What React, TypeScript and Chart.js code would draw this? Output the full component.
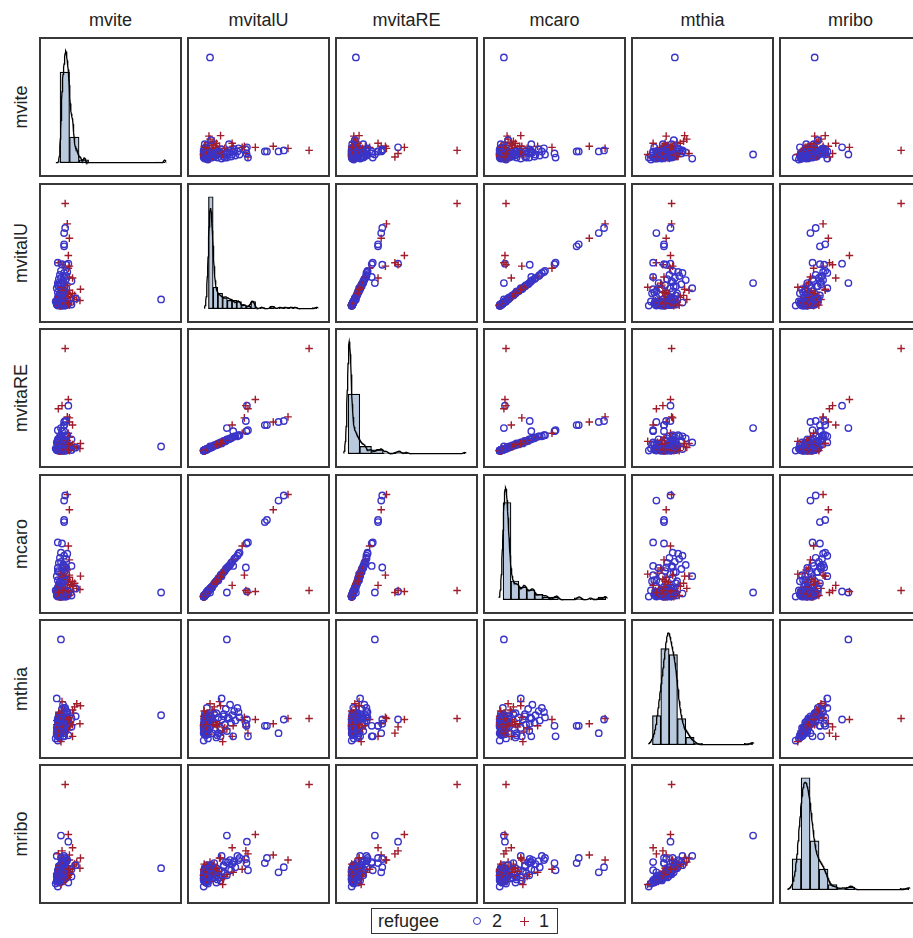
import React, { useEffect, useRef } from "react";
import { Chart, registerables } from "chart.js";

Chart.register(...registerables);

// ---------------- DATA (relative units) ----------------
const variableNames = ["mvite", "mvitalU", "mvitaRE", "mcaro", "mthia", "mribo"];
const legendTitle = "refugee";
const groupOrder = [2, 1];

const mvite = [
  2, 4, 1, 6, 3, 8, 5, 2, 10, 7,
  4, 12, 0, 9, 3, 6, 14, 5, 1, 8,
  11, 2, 16, 7, 4, 13, 6, 3, 10, 5,
  18, 8, 2, 12, 6, 9, 4, 15, 1, 7,
  11, 3, 17, 5, 8, 13, 2, 10, 6, 4,
  20, 7, 12, 1, 9, 5, 14, 3, 8, 11,
  6, 2, 16, 4, 23.5, 23, 7, 10, 19, 5,
  3, 5, 7, 2, 9, 4, 6, 8, 1, 5,
  10, 3, 6, 7, 4, 2, 8, 5, 11, 6,
  3, 7, 9, 4, 5, 12, 2, 6, 8, 3,
  5, 7, 4, 10, 6, 1, 8, 5, 3, 9,
  6, 2, 7, 4, 13, 5, 8, 3, 6, 7,
  4, 9, 2, 5, 11, 6, 3, 8, 7, 4,
  15, 5, 6, 2, 9, 4, 7, 3, 10, 5,
  8, 6, 1, 4, 7, 12, 3, 5, 9, 6,
  100, 9, 5, 11, 9, 8, 13, 8, 8, 12, 12, 6, 2.5, 13, 10, 16, 8, 6, 2, 12, 8, 11, 5,
];
const mvitalU = [
  0, 1, 2, 3, 1, 4, 5, 6, 3, 7,
  8, 2, 4, 9, 10, 1, 5, 11, 6, 12,
  7, 13, 8, 14, 3, 15, 16, 9, 17, 18,
  10, 19, 20, 11, 21, 22, 12, 24, 5, 25,
  13, 26, 4, 27, 14, 28, 8, 29, 15, 30,
  6, 16, 2, 17, 3, 18, 9, 19, 1, 20,
  10, 22, 12, 6, 16, 5, 23, 4, 7, 0,
  1, 2, 0.5, 3, 1.5, 2.5, 0, 4, 1, 2,
  3.5, 0.5, 1, 2, 3, 1.5, 4.5, 0, 2, 1,
  2.5, 3, 1, 0.5, 4, 2, 1.5, 3, 0, 2.5,
  1, 3.5, 2, 0.5, 1.5, 5, 1, 2, 3, 0,
  2, 1, 4, 1.5, 0.5, 3, 2.5, 1, 2, 3.5,
  0, 1.5, 2, 4, 1, 2.5, 0.5, 3, 1.5, 2,
  1, 3, 0.5, 2, 4.5, 1, 2, 1.5, 3, 0.5,
  2.5, 1, 3.5, 0, 2, 1.5, 4, 1, 2.5, 3,
  6, 100, 22, 80, 76, 71, 66, 58, 60, 49, 41, 40, 42, 38.6, 40, 27, 28, 40.6, 42, 36.5, 32, 33, 34,
];
const mvitaRE = [
  0, 0.5, 1, 1, 0, 2, 2, 3, 1.5, 3,
  3.5, 1, 2, 4, 5, 0.5, 2.5, 5, 2, 5.5,
  3, 6, 4, 6, 1, 7, 7.5, 4.5, 7, 8,
  4, 9, 9, 5, 9.5, 10, 6, 11, 2, 12,
  6, 12, 2, 13, 7, 13, 4, 14, 7, 14,
  3, 8, 1, 8, 1.5, 9, 4, 9.5, 0, 10,
  5, 11, 6, 3, 7, 2, 11, 2, 3, 0,
  0.5, 1, 0, 1.5, 0.5, 1, 0, 2, 0.5, 1,
  1.5, 0, 0.5, 1, 1.5, 0.5, 2, 0, 1, 0.5,
  1, 1.5, 0.5, 0, 2, 1, 0.5, 1.5, 0, 1,
  0.5, 1.5, 1, 0, 0.5, 2.5, 0.5, 1, 1.5, 0,
  1, 0.5, 2, 0.5, 0, 1.5, 1, 0.5, 1, 1.5,
  0, 0.5, 1, 2, 0.5, 1, 0, 1.5, 0.5, 1,
  0.5, 1.5, 0, 1, 2, 0.5, 1, 0.5, 1.5, 0,
  1, 0.5, 1.5, 0, 1, 0.5, 2, 0.5, 1, 1.5,
  4, 100, 22, 33, 29, 28, 28, 25, 25, 50, 44, 44, 41, 32, 29, 25, 19, 19, 20, 17, 14, 15, 15,
];
const mcaro = [
  0, 1, 3, 4, 2, 5, 7, 7, 3, 9,
  10, 2, 6, 12, 12, 1, 6, 14, 8, 15,
  9, 16, 10, 18, 4, 19, 20, 11, 22, 23,
  13, 24, 25, 14, 27, 28, 15, 30, 6, 31,
  17, 33, 5, 34, 16, 36, 9, 37, 20, 38,
  8, 21, 2, 20, 3, 22, 12, 24, 1, 26,
  13, 28, 15, 8, 20, 7, 29, 5, 8, 0,
  1, 3, 0, 4, 2, 3, 0, 5, 1, 2,
  4, 1, 1, 3, 4, 2, 6, 0, 2, 1,
  3, 4, 1, 0, 5, 2, 2, 4, 1, 3,
  1, 4, 3, 0, 2, 6, 1, 2, 4, 0,
  2, 1, 5, 2, 1, 4, 3, 1, 3, 4,
  0, 2, 3, 5, 1, 3, 0, 4, 2, 2,
  1, 4, 1, 3, 6, 1, 2, 2, 4, 0,
  3, 1, 5, 0, 2, 2, 5, 1, 3, 4,
  4, 6, 4, 100, 99, 94, 85, 73, 75, 5, 5, 6, 4, 21, 28.5, 11, 30, 52, 53, 49.6, 40, 42, 43,
];
const mthia = [
  4, 9, 12, 15, 18, 20, 13, 17, 22, 24,
  11, 26, 6, 19, 21, 16, 28, 14, 23, 30,
  18, 9, 33, 26, 27, 20, 16, 31, 24, 12,
  36, 29, 19, 22, 34, 15, 7, 25, 10, 38,
  17, 21, 30, 28, 11, 18, 25, 32, 41, 23,
  39, 8, 14, 44, 35, 3, 21, 27, 24, 16,
  29, 13, 19, 22, 37, 20, 26, 12, 27, 17,
  14, 18, 21, 12, 25, 16, 19, 23, 10, 17,
  20, 15, 27, 13, 22, 18, 24, 11, 16, 20,
  19, 14, 26, 17, 21, 9, 23, 18, 15, 28,
  12, 20, 17, 24, 16, 19, 22, 13, 30, 18,
  15, 21, 25, 11, 18, 20, 14, 23, 17, 26,
  19, 16, 22, 13, 29, 18, 21, 15, 24, 12,
  17, 20, 32, 16, 19, 23, 14, 21, 18, 25,
  13, 22, 16, 27, 20, 17, 10, 24, 19, 15,
  28, 25, 100, 25, 24, 11, 20, 18, 18, 24, 24, 17, 11, 26, 20, 8, 8, 18, 8, 24, 35, 31, 26,
];
const mribo = [
  0, 4, 6, 9, 7, 11, 5, 10, 13, 12,
  8, 15, 3, 14, 9, 6, 17, 11, 13, 18,
  10, 7, 20, 16, 14, 12, 9, 19, 15, 8,
  22, 21, 13, 11, 24, 12, 4, 17, 5, 26,
  15, 16, 20, 22, 9, 14, 12, 25, 28, 19,
  24, 6, 9, 30, 21, 2, 17, 20, 14, 10,
  23, 11, 18, 10, 28, 18, 24, 7, 21, 8,
  8, 12, 14, 6, 16, 9, 11, 15, 5, 10,
  13, 7, 17, 9, 12, 11, 15, 6, 8, 13,
  12, 9, 18, 10, 14, 4, 13, 11, 8, 19,
  7, 14, 10, 15, 9, 12, 16, 7, 20, 11,
  10, 13, 15, 6, 12, 14, 8, 14, 10, 17,
  11, 9, 13, 8, 18, 12, 15, 9, 16, 7,
  10, 12, 22, 9, 13, 15, 8, 14, 11, 16,
  7, 15, 10, 17, 13, 11, 5, 16, 12, 9,
  18, 100, 50, 26, 19, 14, 31, 23, 28, 51, 44, 35, 32, 26, 27, 38, 24, 23, 16, 17, 30, 26, 28,
];
const refugee = [
  2, 1, 2, 2, 1, 2, 1, 2, 1, 2,
  2, 1, 2, 1, 2, 2, 1, 2, 1, 2,
  1, 2, 1, 2, 2, 1, 2, 1, 2, 1,
  1, 2, 2, 1, 2, 1, 2, 2, 1, 2,
  1, 2, 1, 2, 2, 1, 2, 2, 1, 2,
  1, 2, 1, 2, 2, 1, 1, 2, 2, 1,
  2, 2, 1, 2, 1, 1, 2, 1, 2, 2,
  2, 1, 2, 2, 1, 2, 2, 1, 2, 1,
  1, 2, 2, 1, 2, 1, 2, 2, 1, 2,
  2, 1, 2, 1, 1, 2, 2, 1, 2, 2,
  1, 2, 1, 2, 2, 1, 2, 2, 1, 2,
  2, 1, 2, 2, 1, 2, 1, 2, 2, 1,
  1, 2, 2, 1, 2, 2, 1, 2, 1, 2,
  2, 2, 1, 2, 1, 2, 2, 1, 2, 1,
  1, 2, 2, 1, 2, 1, 2, 2, 1, 2,
  2, 1, 2, 1, 2, 2, 1, 2, 2, 1, 2, 1, 1, 1, 2, 1, 2, 2, 2, 1, 2, 2, 2,
];

const variables = [mvite, mvitalU, mvitaRE, mcaro, mthia, mribo];
// number of histogram bins on the diagonal, per variable
const histBins = [11, 23, 10, 13, 12, 13];
// kernel bandwidth multipliers for the density curve, per variable
const kdeScale = [0.8, 0.45, 1, 0.55, 1, 1];

// ---------------- STYLE / LAYOUT ----------------
const COL_X = [39, 187, 335, 483, 631, 779];
const ROW_Y = [37, 183, 328, 474, 619, 764];
const PW = 143;
const PH = 140;
const BORDER = 2;
const BLUE = "#3a35c8";
const RED = "#a11d2c";
const BAR_FILL = "#b9cade";
const FONT = "'Liberation Sans', Arial, sans-serif";
// where the histogram range starts / ends inside a diagonal panel (fractions of width)
const HIST_LEFT = [0.137, 0.14, 0.08, 0.13, 0.14, 0.08];
const HIST_RIGHT = [0.89, 0.92, 0.92, 0.87, 0.86, 0.92];

function minMax(a: number[]) {
  let lo = Infinity;
  let hi = -Infinity;
  for (const v of a) {
    if (v < lo) lo = v;
    if (v > hi) hi = v;
  }
  return [lo, hi];
}

const baseOptions = {
  responsive: false,
  animation: false,
  devicePixelRatio: 1,
  layout: { padding: 0 },
  plugins: { legend: { display: false }, tooltip: { enabled: false } },
  events: [],
};

function scatterConfig(xs: number[], ys: number[]): any {
  const [xl, xh] = minMax(xs);
  const [yl, yh] = minMax(ys);
  const xr = xh - xl;
  const yr = yh - yl;
  const pts = xs.map((x, i) => ({ x, y: ys[i] }));
  return {
    type: "scatter",
    data: {
      datasets: [
        {
          data: pts,
          pointStyle: refugee.map((g) => (g === 1 ? "cross" : "circle")),
          pointRadius: refugee.map((g) => (g === 1 ? 3.8 : 3.2)),
          pointBorderColor: refugee.map((g) => (g === 1 ? RED : BLUE)),
          pointBackgroundColor: "rgba(0,0,0,0)",
          pointBorderWidth: 1.4,
          pointHoverRadius: 3,
        },
      ],
    },
    options: {
      ...baseOptions,
      scales: {
        x: { type: "linear", display: false, min: xl - 0.09 * xr, max: xh + 0.13 * xr },
        y: { type: "linear", display: false, min: yl - 0.1 * yr, max: yh + 0.13 * yr },
      },
    },
  };
}

function histConfig(k: number): any {
  const vals = variables[k];
  const [lo, hi] = minMax(vals);
  const r = hi - lo;
  const n = vals.length;
  const nb = histBins[k];
  const bw = r / nb;
  const counts = new Array(nb).fill(0);
  for (const v of vals) {
    let b = Math.floor((v - lo) / bw);
    if (b >= nb) b = nb - 1;
    if (b < 0) b = 0;
    counts[b]++;
  }
  const bars = counts.map((c, i) => ({ x: lo + bw * (i + 0.5), y: c / (n * bw) }));

  // kernel density estimate (Silverman bandwidth)
  const mean = vals.reduce((a, b) => a + b, 0) / n;
  const sd = Math.sqrt(vals.reduce((a, b) => a + (b - mean) * (b - mean), 0) / (n - 1));
  const sorted = [...vals].sort((a, b) => a - b);
  const q1 = sorted[Math.floor(0.25 * (n - 1))];
  const q3 = sorted[Math.floor(0.75 * (n - 1))];
  const s = Math.min(sd, (q3 - q1) / 1.34);
  const h = 0.9 * s * Math.pow(n, -0.2) * kdeScale[k];
  const kdePts: { x: number; y: number }[] = [];
  const g0 = lo - 0.04 * r;
  const g1 = hi + 0.01 * r;
  const steps = 320;
  for (let i = 0; i <= steps; i++) {
    const x = g0 + ((g1 - g0) * i) / steps;
    let sum = 0;
    for (const v of vals) {
      const z = (x - v) / h;
      sum += Math.exp(-0.5 * z * z);
    }
    kdePts.push({ x, y: sum / (n * h * Math.sqrt(2 * Math.PI)) });
  }
  let peak = 0;
  for (const p of kdePts) peak = Math.max(peak, p.y);
  for (const b of bars) peak = Math.max(peak, b.y);

  const fl = HIST_LEFT[k];
  const fr = HIST_RIGHT[k];
  const span = fr - fl;
  const xmin = lo - (fl / span) * r;
  const xmax = hi + ((1 - fr) / span) * r;

  return {
    type: "bar",
    data: {
      datasets: [
        {
          type: "line",
          data: kdePts,
          borderColor: "#000",
          borderWidth: 1.3,
          pointRadius: 0,
          tension: 0,
          fill: false,
          order: 0,
        },
        {
          type: "bar",
          data: bars,
          backgroundColor: BAR_FILL,
          borderColor: "#000",
          borderWidth: 1.2,
          borderSkipped: false,
          barPercentage: 1,
          categoryPercentage: 1,
          order: 1,
        },
      ],
    },
    options: {
      ...baseOptions,
      scales: {
        x: { type: "linear", display: false, offset: false, min: xmin, max: xmax },
        y: { type: "linear", display: false, min: -0.11 * peak, max: 1.105 * peak },
      },
    },
  };
}

function Panel({ row, col }: { row: number; col: number }) {
  const ref = useRef<HTMLCanvasElement | null>(null);
  useEffect(() => {
    if (!ref.current) return;
    const cfg = row === col ? histConfig(row) : scatterConfig(variables[col], variables[row]);
    const chart = new Chart(ref.current, cfg);
    return () => chart.destroy();
  }, [row, col]);
  return (
    <div
      style={{
        position: "absolute",
        left: COL_X[col],
        top: ROW_Y[row],
        width: PW,
        height: PH,
        border: `${BORDER}px solid #383838`,
        boxSizing: "border-box",
        background: "#fff",
      }}
    >
      <canvas
        ref={ref}
        width={PW - 2 * BORDER}
        height={PH - 2 * BORDER}
        style={{ display: "block", width: PW - 2 * BORDER, height: PH - 2 * BORDER }}
      />
    </div>
  );
}

export default function App() {
  const panels: JSX.Element[] = [];
  for (let r = 0; r < 6; r++) {
    for (let c = 0; c < 6; c++) {
      panels.push(<Panel key={`${r}-${c}`} row={r} col={c} />);
    }
  }
  const textStyle: React.CSSProperties = {
    position: "absolute",
    fontFamily: FONT,
    fontSize: 18,
    lineHeight: "22px",
    color: "#222",
    whiteSpace: "nowrap",
    textAlign: "center",
  };
  return (
    <div
      style={{
        position: "fixed",
        left: 0,
        top: 0,
        width: 913,
        height: 938,
        overflow: "hidden",
        background: "#fff",
      }}
    >
      {variableNames.map((name, c) => (
        <div key={"c" + name} style={{ ...textStyle, left: COL_X[c], top: 9, width: PW }}>
          {name}
        </div>
      ))}
      {variableNames.map((name, r) => (
        <div
          key={"r" + name}
          style={{
            ...textStyle,
            left: 20.5 - PH / 2,
            top: ROW_Y[r] + PH / 2 - 11,
            width: PH,
            height: 22,
            transform: "rotate(-90deg)",
            transformOrigin: "50% 50%",
          }}
        >
          {name}
        </div>
      ))}
      {panels}
      <div
        style={{
          position: "absolute",
          left: 371,
          top: 908,
          width: 187,
          height: 26,
          border: "1.5px solid #333",
          boxSizing: "border-box",
          background: "#fff",
        }}
      >
        <div style={{ ...textStyle, left: 6, top: 1, textAlign: "left" }}>{legendTitle}</div>
        <div
          style={{
            position: "absolute",
            left: 101,
            top: 8,
            width: 8,
            height: 8,
            borderRadius: "50%",
            border: `1.4px solid ${BLUE}`,
            boxSizing: "border-box",
          }}
        />
        <div style={{ ...textStyle, left: 120, top: 1, textAlign: "left" }}>{String(groupOrder[0])}</div>
        <div style={{ position: "absolute", left: 148, top: 12, width: 9, height: 1.4, background: RED }} />
        <div style={{ position: "absolute", left: 151.8, top: 8.2, width: 1.4, height: 9, background: RED }} />
        <div style={{ ...textStyle, left: 167, top: 1, textAlign: "left" }}>{String(groupOrder[1])}</div>
      </div>
    </div>
  );
}
